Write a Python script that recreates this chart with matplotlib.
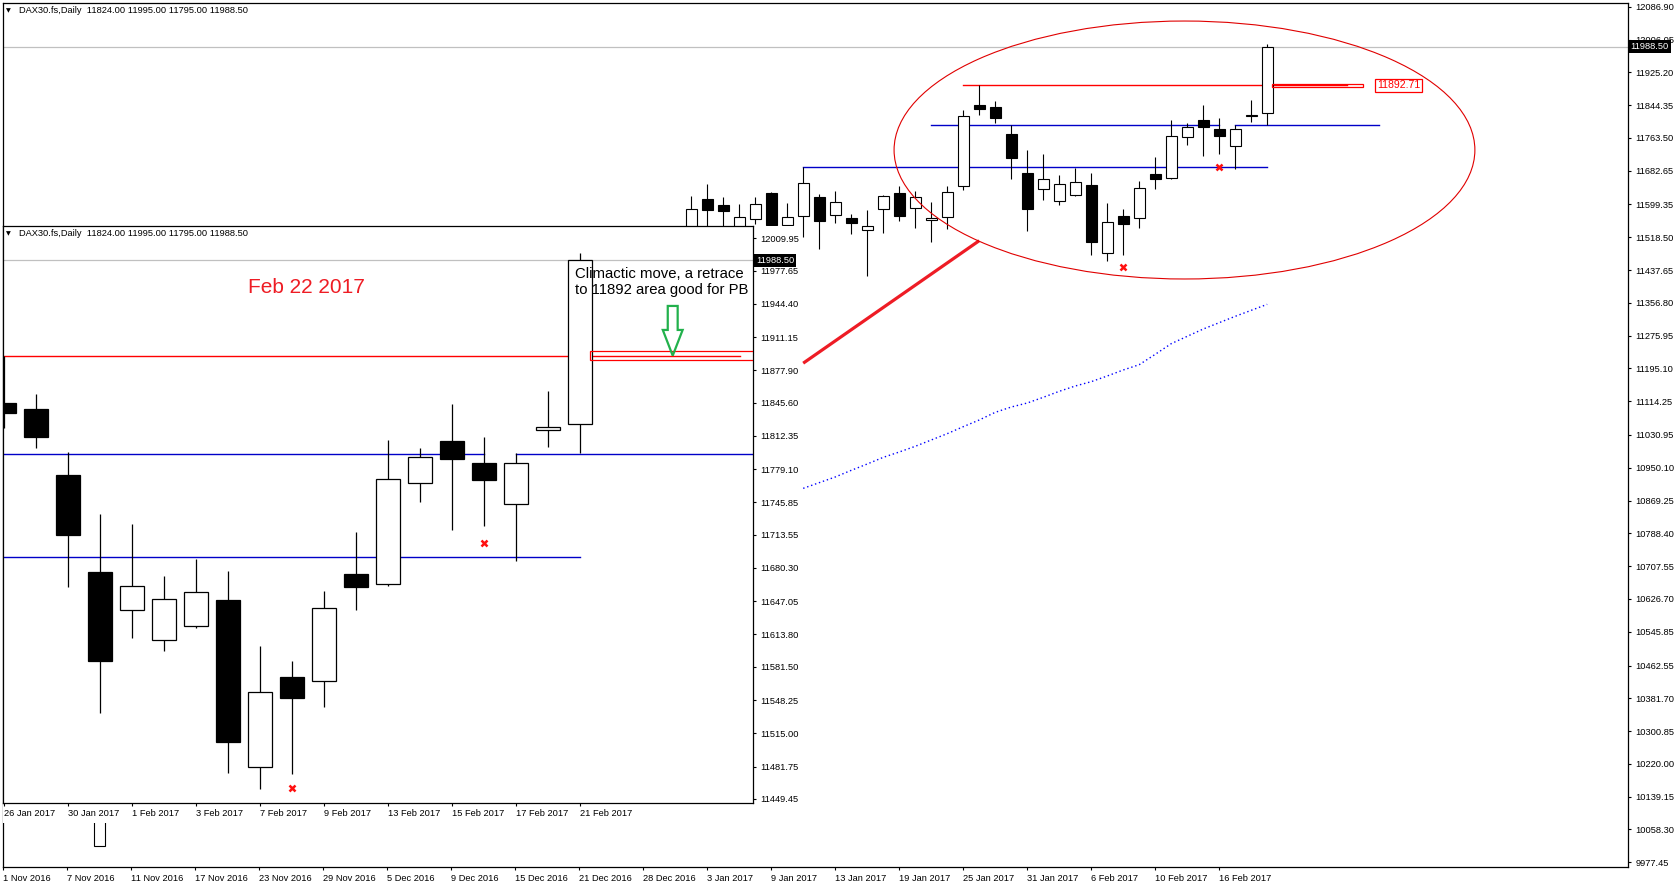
import matplotlib
matplotlib.use("Agg")
import matplotlib.pyplot as plt
from matplotlib.patches import Ellipse, Rectangle, FancyArrow
import pandas as pd

plt.rcParams["font.family"] = ["Liberation Sans", "DejaVu Sans"]

# ---- data (DAX30.fs daily) ----
candle_dates = ["2016-11-09",
                "2017-01-02", "2017-01-03", "2017-01-04", "2017-01-05", "2017-01-06",
                "2017-01-09", "2017-01-10", "2017-01-11", "2017-01-12", "2017-01-13",
                "2017-01-16", "2017-01-17", "2017-01-18", "2017-01-19", "2017-01-20",
                "2017-01-23", "2017-01-24", "2017-01-25", "2017-01-26", "2017-01-27",
                "2017-01-30", "2017-01-31", "2017-02-01", "2017-02-02", "2017-02-03",
                "2017-02-06", "2017-02-07", "2017-02-08", "2017-02-09", "2017-02-10",
                "2017-02-13", "2017-02-14", "2017-02-15", "2017-02-16", "2017-02-17",
                "2017-02-20", "2017-02-21"]
opens = [10017.0,
         11440.0, 11612.8, 11598.0, 11545.0, 11562.7,
         11627.6, 11549.5, 11570.1, 11616.9, 11572.5,
         11565.1, 11536.4, 11587.3, 11626.8, 11589.8,
         11560.2, 11567.6, 11644.0, 11845.0, 11838.9,
         11772.9, 11675.9, 11637.9, 11607.9, 11622.6,
         11648.3, 11480.9, 11571.3, 11566.9, 11674.3,
         11663.9, 11764.9, 11807.3, 11784.9, 11743.9,
         11817.9, 11824.0]
highs = [10660.0,
         11620.2, 11650.6, 11618.5, 11599.6, 11617.7,
         11629.2, 11602.9, 11691.7, 11624.3, 11631.7,
         11575.0, 11585.7, 11622.7, 11644.8, 11631.7,
         11605.4, 11644.8, 11832.2, 11892.7, 11854.3,
         11795.9, 11734.3, 11724.3, 11671.9, 11689.3,
         11677.3, 11602.3, 11587.3, 11657.3, 11716.3,
         11808.3, 11800.3, 11844.3, 11811.3, 11794.9,
         11857.3, 11995.0]
lows = [10017.0,
        11420.0, 11540.0, 11545.0, 11520.0, 11550.3,
        11530.0, 11530.0, 11518.3, 11488.7, 11552.8,
        11525.7, 11423.8, 11528.1, 11558.6, 11542.1,
        11506.0, 11538.0, 11635.8, 11820.0, 11800.6,
        11661.6, 11534.9, 11610.6, 11597.6, 11620.6,
        11475.6, 11459.6, 11474.6, 11541.6, 11638.6,
        11662.6, 11746.3, 11718.3, 11722.6, 11687.6,
        11801.6, 11795.0]
closes = [10630.0,
          11587.3, 11585.7, 11584.0, 11567.6, 11599.6,
          11548.0, 11567.6, 11651.4, 11559.4, 11604.6,
          11552.8, 11547.0, 11620.2, 11570.1, 11616.9,
          11565.1, 11629.2, 11816.6, 11835.0, 11811.6,
          11713.6, 11587.6, 11662.6, 11648.9, 11655.9,
          11506.6, 11555.9, 11550.6, 11639.9, 11661.6,
          11768.9, 11790.9, 11789.6, 11768.6, 11784.9,
          11820.9, 11988.5]

# dotted moving average, 11 Jan .. 21 Feb
ma_start = "2017-01-11"
ma_values = [10899.4, 10913.4, 10927.4, 10943.8, 10959.4, 10975.8, 10989.0,
             11003.0, 11018.6, 11034.2, 11051.4, 11067.9, 11086.8, 11099.9,
             11109.8, 11123.8, 11138.6, 11151.7, 11162.4, 11176.4, 11191.2,
             11204.3, 11229.8, 11256.1, 11274.2, 11292.2, 11307.9, 11323.5,
             11338.3, 11353.1]

main_yticks = [12086.90, 12006.05, 11925.20, 11844.35, 11763.50, 11682.65,
               11599.35, 11518.50, 11437.65, 11356.80, 11275.95, 11195.10,
               11114.25, 11030.95, 10950.10, 10869.25, 10788.40, 10707.55,
               10626.70, 10545.85, 10462.55, 10381.70, 10300.85, 10220.00,
               10139.15, 10058.30, 9977.45]
inset_yticks = [12009.95, 11977.65, 11944.40, 11911.15, 11877.90, 11845.60,
                11812.35, 11779.10, 11745.85, 11713.55, 11680.30, 11647.05,
                11613.80, 11581.50, 11548.25, 11515.00, 11481.75, 11449.45]

last_price = 11988.50
level_red = 11892.71
level_blue_hi = 11794.7
level_blue_lo = 11690.9
# horizontal objects: (start date, end date, price, colour)
hlines = [("2017-01-25", "2017-02-28", level_red, "#ff0000"),
          ("2017-01-23", "2017-02-16", level_blue_hi, "#0000c8"),
          ("2017-02-17", "2017-03-02", level_blue_hi, "#0000c8"),
          ("2017-01-11", "2017-02-21", level_blue_lo, "#0000c8")]
# red "x" marks (date, price on main chart, price on zoomed chart)
x_marks = [("2017-02-08", 11446.0, 11460.6), ("2017-02-16", 11692.4, 11705.6)]
# red trend line
trend = [("2017-01-11", 11208.0), ("2017-01-26", 11510.0)]

# trading calendar (26 Dec closed)
days = pd.bdate_range("2016-11-01", "2017-03-10").drop(pd.Timestamp("2016-12-26"))
pos = {d.strftime("%Y-%m-%d"): i for i, d in enumerate(days)}
n_bars = pos["2017-02-21"] + 1
xs = [pos[d] for d in candle_dates]
inset_off = pos["2017-01-26"]

W, H = 1676, 888
fig = plt.figure(figsize=(W / 100, H / 100), dpi=100)
fig.patch.set_facecolor("white")


def box(l, t, r, b):
    return [l / W, 1 - b / H, (r - l) / W, (b - t) / H]


def candles(ax, x, width, lw):
    fills = ["white" if c >= o else "black" for o, c in zip(opens, closes)]
    ax.vlines(x, lows, highs, color="black", lw=lw, zorder=3)
    ax.bar(x, [c - o for o, c in zip(opens, closes)], bottom=opens, width=width,
           color=fills, edgecolor="black", linewidth=lw, zorder=4)


def style(ax):
    for s in ax.spines.values():
        s.set_color("black")
        s.set_linewidth(0.9)
    ax.yaxis.tick_right()
    ax.tick_params(axis="y", direction="out", length=2.5, width=0.8, pad=2.8,
                   labelsize=6.7, left=False)
    ax.tick_params(axis="x", direction="out", length=2.5, width=0.8, pad=2.2,
                   labelsize=6.7)
    for t in ax.get_xticklabels():
        t.set_horizontalalignment("left")


# ---------------- main chart ----------------
ax = fig.add_axes(box(2.7, 2.7, 1628, 867.3))
ax.set_xlim(-0.031, 101.55)
ax.set_ylim(9965.1, 12096.8)
ax.axhline(last_price, color="#c0c0c0", lw=0.9, zorder=1)
for d0, d1, p, col in hlines:
    ax.plot([pos[d0], pos[d1]], [p, p], color=col, lw=1.0, zorder=2)
ax.add_patch(Rectangle((79.33, 11888.0), 5.67, 9.0, fill=False,
                       edgecolor="#ff0000", lw=0.9, zorder=5))
ax.text(85.85, level_red, f"{level_red:.2f}", fontsize=7.6, color="#ff0000",
        ha="left", va="center", zorder=6,
        bbox=dict(boxstyle="square,pad=0.15", fc="white", ec="#ff0000", lw=0.9))
candles(ax, xs, 0.67, 0.8)
ma_x = list(range(pos[ma_start], pos[ma_start] + len(ma_values)))
ax.plot(ma_x, ma_values, color="#0000ff", lw=1.0, ls=(0, (1, 2)), zorder=2)
ax.plot([pos[trend[0][0]], pos[trend[1][0]]], [trend[0][1], trend[1][1]],
        color="#ee1c25", lw=2.3, solid_capstyle="butt", zorder=5)
ax.add_patch(Ellipse((73.83, 11733.6), 36.3, 636.0, fill=False,
                     edgecolor="#e00000", lw=0.8, zorder=6))
ax.plot([pos[d] for d, _, _ in x_marks], [p for _, p, _ in x_marks], "x",
        color="#ff1010", ms=4.5, mew=1.8, zorder=6)
ax.set_yticks(main_yticks)
ax.set_yticklabels([f"{v:.2f}" for v in main_yticks])
mticks = list(range(0, n_bars - 2, 4))
ax.set_xticks(mticks)
ax.set_xticklabels([f"{days[i].day} {days[i].strftime('%b %Y')}" for i in mticks])
style(ax)

# ---------------- zoomed window ----------------
cover = fig.add_axes(box(3, 225.7, 800, 822.7))
cover.set_facecolor("white")
cover.set_xticks([])
cover.set_yticks([])
for s in cover.spines.values():
    s.set_visible(False)

ins = fig.add_axes(box(3.3, 225.7, 752.7, 802.7))
ins.set_xlim(-0.022, 23.4)
ins.set_ylim(11445.55, 12022.55)
ins.axhline(last_price, color="#c0c0c0", lw=0.9, zorder=1)
for d0, d1, p, col in hlines:
    ins.plot([pos[d0] - inset_off, pos[d1] - inset_off], [p, p], color=col, lw=1.0, zorder=2)
ins.add_patch(Rectangle((79.33 - inset_off, 11888.0), 5.67, 9.0, fill=False,
                        edgecolor="#ff0000", lw=0.9, zorder=5))
candles(ins, [x - inset_off for x in xs], 0.75, 0.9)
ins.plot([pos[d] - inset_off for d, _, _ in x_marks], [p for _, _, p in x_marks], "x",
         color="#ff1010", ms=4.5, mew=1.8, zorder=6)
ins.set_yticks(inset_yticks)
ins.set_yticklabels([f"{v:.2f}" for v in inset_yticks])
iticks = list(range(0, n_bars - inset_off, 2))
ins.set_xticks(iticks)
ins.set_xticklabels([f"{days[i + inset_off].day} {days[i + inset_off].strftime('%b %Y')}"
                     for i in iticks])
style(ins)

ins.text(7.64, 11960.8, "Feb 22 2017", fontsize=15, color="#ee1c24",
         ha="left", va="center", zorder=7)
ins.text(17.84, 11966.2, "Climactic move, a retrace\nto 11892 area good for PB",
         fontsize=10.7, color="black", ha="left", va="center", linespacing=1.15, zorder=7)
ins.add_patch(FancyArrow(20.9, 11942.3, 0, -49.7, width=0.31, head_width=0.62,
                         head_length=25.7, length_includes_head=True, fill=False,
                         edgecolor="#22b14c", lw=1.6, zorder=7))

# ---------------- headers and price boxes ----------------
hdr = (f"DAX30.fs,Daily  {opens[-1]:.2f} {highs[-1]:.2f} "
       f"{lows[-1]:.2f} {closes[-1]:.2f}")
for ty in (10.7, 233.5):
    fig.text(6.2 / W, 1 - ty / H, "\u25bc", fontsize=4.5, ha="left", va="center",
             family="DejaVu Sans", zorder=10)
    fig.text(18.7 / W, 1 - ty / H, hdr, fontsize=6.7, ha="left", va="center", zorder=10)
for tx, ty in ((1630.5, 46.3), (756.0, 260.6)):
    fig.text(tx / W, 1 - ty / H, f"{last_price:.2f}", fontsize=6.7, color="white",
             ha="left", va="center", zorder=10,
             bbox=dict(boxstyle="square,pad=0.22", fc="black", ec="black", lw=0))

fig.savefig("out.png", dpi=100, facecolor="white")
